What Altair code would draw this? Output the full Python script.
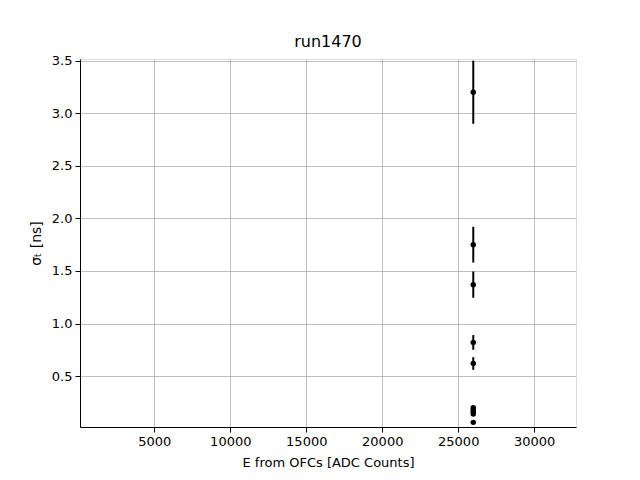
import altair as alt
import pandas as pd

energy = [25990, 25990, 25990, 25990, 25990, 25990, 25990, 25990, 25990, 25990]
sigma = [3.20, 1.75, 1.37, 0.82, 0.62, 0.20, 0.18, 0.16, 0.14, 0.06]
err = [0.30, 0.17, 0.125, 0.07, 0.06, 0.015, 0.015, 0.015, 0.015, 0.01]

df = pd.DataFrame({"E": energy, "s": sigma, "e": err})
df["lo"] = df["s"] - df["e"]
df["hi"] = df["s"] + df["e"]

xdom = [110, 32750]
ydom = [0.016, 3.516]
FONT = "DejaVu Sans"

xs = alt.Scale(domain=xdom, nice=False, zero=False)
ys = alt.Scale(domain=ydom, nice=False, zero=False)

xaxis = alt.Axis(title="E from OFCs [ADC Counts]", values=[5000, 10000, 15000, 20000, 25000, 30000],
                 format="d", grid=True, gridColor="#b0b0b0", gridWidth=0.8,
                 domainColor="black", tickColor="black", tickSize=5, labelFontSize=13,
                 titleFontSize=13, labelColor="black", titleColor="black",
                 labelFont=FONT, titleFont=FONT, titleFontWeight="normal", labelPadding=3, titlePadding=8)
yaxis = alt.Axis(title="σₜ [ns]", values=[0.5, 1.0, 1.5, 2.0, 2.5, 3.0, 3.5],
                 format=".1f", grid=True, gridColor="#b0b0b0", gridWidth=0.8,
                 domainColor="black", tickColor="black", tickSize=5, labelFontSize=13,
                 titleFontSize=14, labelColor="black", titleColor="black",
                 labelFont=FONT, titleFont=FONT, titleFontWeight="normal", labelPadding=3, titlePadding=8)

base = alt.Chart(df)
bars = base.mark_rule(color="black", strokeWidth=2, clip=True).encode(
    x=alt.X("E:Q", scale=xs, axis=xaxis),
    y=alt.Y("lo:Q", scale=ys, axis=yaxis),
    y2="hi:Q",
)
pts = base.mark_circle(color="black", opacity=1, size=30, clip=True).encode(
    x=alt.X("E:Q", scale=xs),
    y=alt.Y("s:Q", scale=ys),
)

chart = (bars + pts).properties(
    width=496, height=368,
    title=alt.TitleParams("run1470", fontSize=16, font=FONT, fontWeight="normal", color="black", offset=5),
    autosize=alt.AutoSizeParams(type="none"),
    padding={"left": 72, "top": 51, "right": 56, "bottom": 45},
).configure_view(stroke="black", strokeWidth=1).configure(background="white")

chart.save("out.html", embed_options={"renderer": "svg", "actions": False})
